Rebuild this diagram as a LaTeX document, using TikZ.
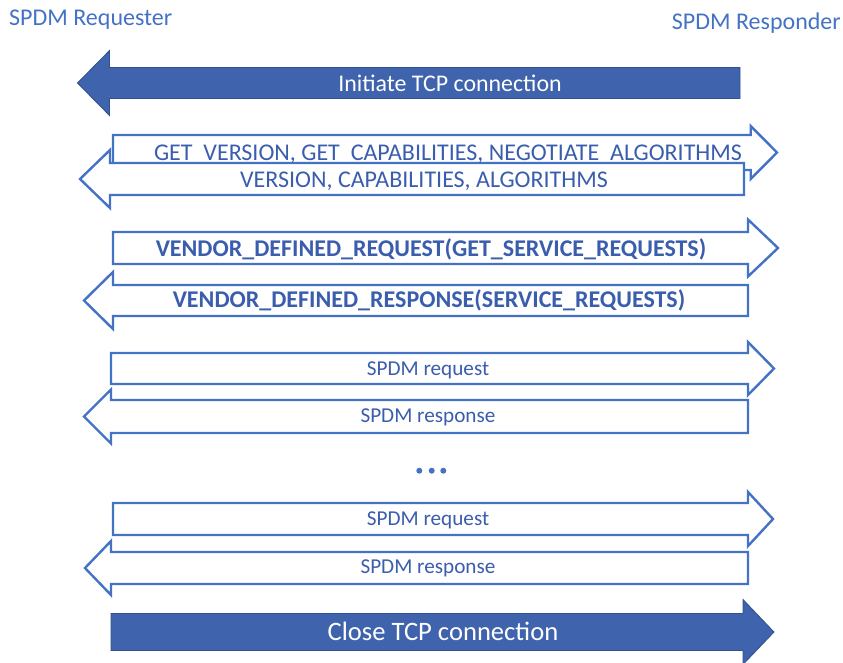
\documentclass[tikz,border=0pt]{standalone}
\usepackage{fontspec}
\setmainfont{Carlito}
\definecolor{ol}{HTML}{4472C4}
\definecolor{lb}{HTML}{3A5DAE}
\definecolor{fl}{HTML}{3F63AC}
\definecolor{fs}{HTML}{2F528F}
\newcommand{\MsgArr}[7]{%
  \draw[#1] (#2,#5-#6) -- (#3,#5-#6) -- (#3,#5-#7) -- (#4,#5) -- (#3,#5+#7) -- (#3,#5+#6) -- (#2,#5+#6) -- cycle;}
\tikzset{
  outl/.style={draw=ol, line width=2.4pt, fill=white, line join=miter},
  filled/.style={draw=fs, line width=0.8pt, fill=fl, line join=miter},
  lbl/.style={text=lb, inner sep=0pt, text height=13.4pt, text depth=0pt, anchor=center, font=\fontsize{21.2}{25}\selectfont},
  lblw/.style={lbl, text height=15.2pt, font=\fontsize{24}{28}\selectfont},
  bld/.style={lbl, text height=15.2pt, font=\fontsize{24}{28}\selectfont\bfseries},
  hdr/.style={text=ol, inner sep=0pt, text height=15.2pt, text depth=0pt, font=\fontsize{24}{28}\selectfont},
  big/.style={text=white, inner sep=0pt, text depth=0pt, anchor=center},
}
\begin{document}
\begin{tikzpicture}[x=1pt, y=-1pt]
\useasboundingbox (0,0) rectangle (843,662);
% headers
\node[hdr, anchor=west] (req) at (9,18) {SPDM Requester};
\node[hdr, anchor=east] (rsp) at (841,22) {SPDM Responder};
% initiate
\MsgArr{filled}{740}{109.5}{77.5}{83}{15.5}{32.5}
\node[big, text height=15.1pt, font=\fontsize{23.9}{28}\selectfont] (init) at (450,83.5) {Initiate TCP connection};
% negotiation
\MsgArr{outl}{113}{750.7}{777}{152.5}{17.5}{26.5}
\node[lblw] (getv) at (448,153) {GET\ \ VERSION, GET\ \ CAPABILITIES, NEGOTIATE\ \ ALGORITHMS};
\MsgArr{outl}{744}{110}{80}{179}{16}{29}
\node[lblw] (ver) at (424,180) {VERSION, CAPABILITIES, ALGORITHMS};
% vendor defined
\MsgArr{outl}{113}{748}{778}{248}{16}{28.5}
\node[bld] (vreq) at (431,248.7) {VENDOR\_DEFINED\_REQUEST(GET\_SERVICE\_REQUESTS)};
\MsgArr{outl}{748}{113}{84}{300.5}{15.5}{28.5}
\node[bld] (vrsp) at (429,299.5) {VENDOR\_DEFINED\_RESPONSE(SERVICE\_REQUESTS)};
% spdm 1
\MsgArr{outl}{111}{748}{774}{368.5}{15.5}{26.5}
\node[lbl] (sreqa) at (428,369) {SPDM request};
\MsgArr{outl}{748}{111}{84}{416.5}{16.5}{27}
\node[lbl] (srspa) at (428,415.5) {SPDM response};
% dots
\fill[ol] (419.3,470.7) circle (3) (431.7,470.7) circle (3) (443.3,470.7) circle (3);
% spdm 2
\MsgArr{outl}{113}{748}{773}{519}{16}{27}
\node[lbl] (sreqb) at (428,519) {SPDM request};
\MsgArr{outl}{748}{111}{85}{568}{16}{27}
\node[lbl] (srspb) at (428,566.5) {SPDM response};
% close
\MsgArr{filled}{111}{743}{774}{632}{18.5}{32.5}
\node[big, text height=16.8pt, font=\fontsize{26.6}{30}\selectfont] (close) at (443,632) {Close TCP connection};
\end{tikzpicture}
\end{document}
